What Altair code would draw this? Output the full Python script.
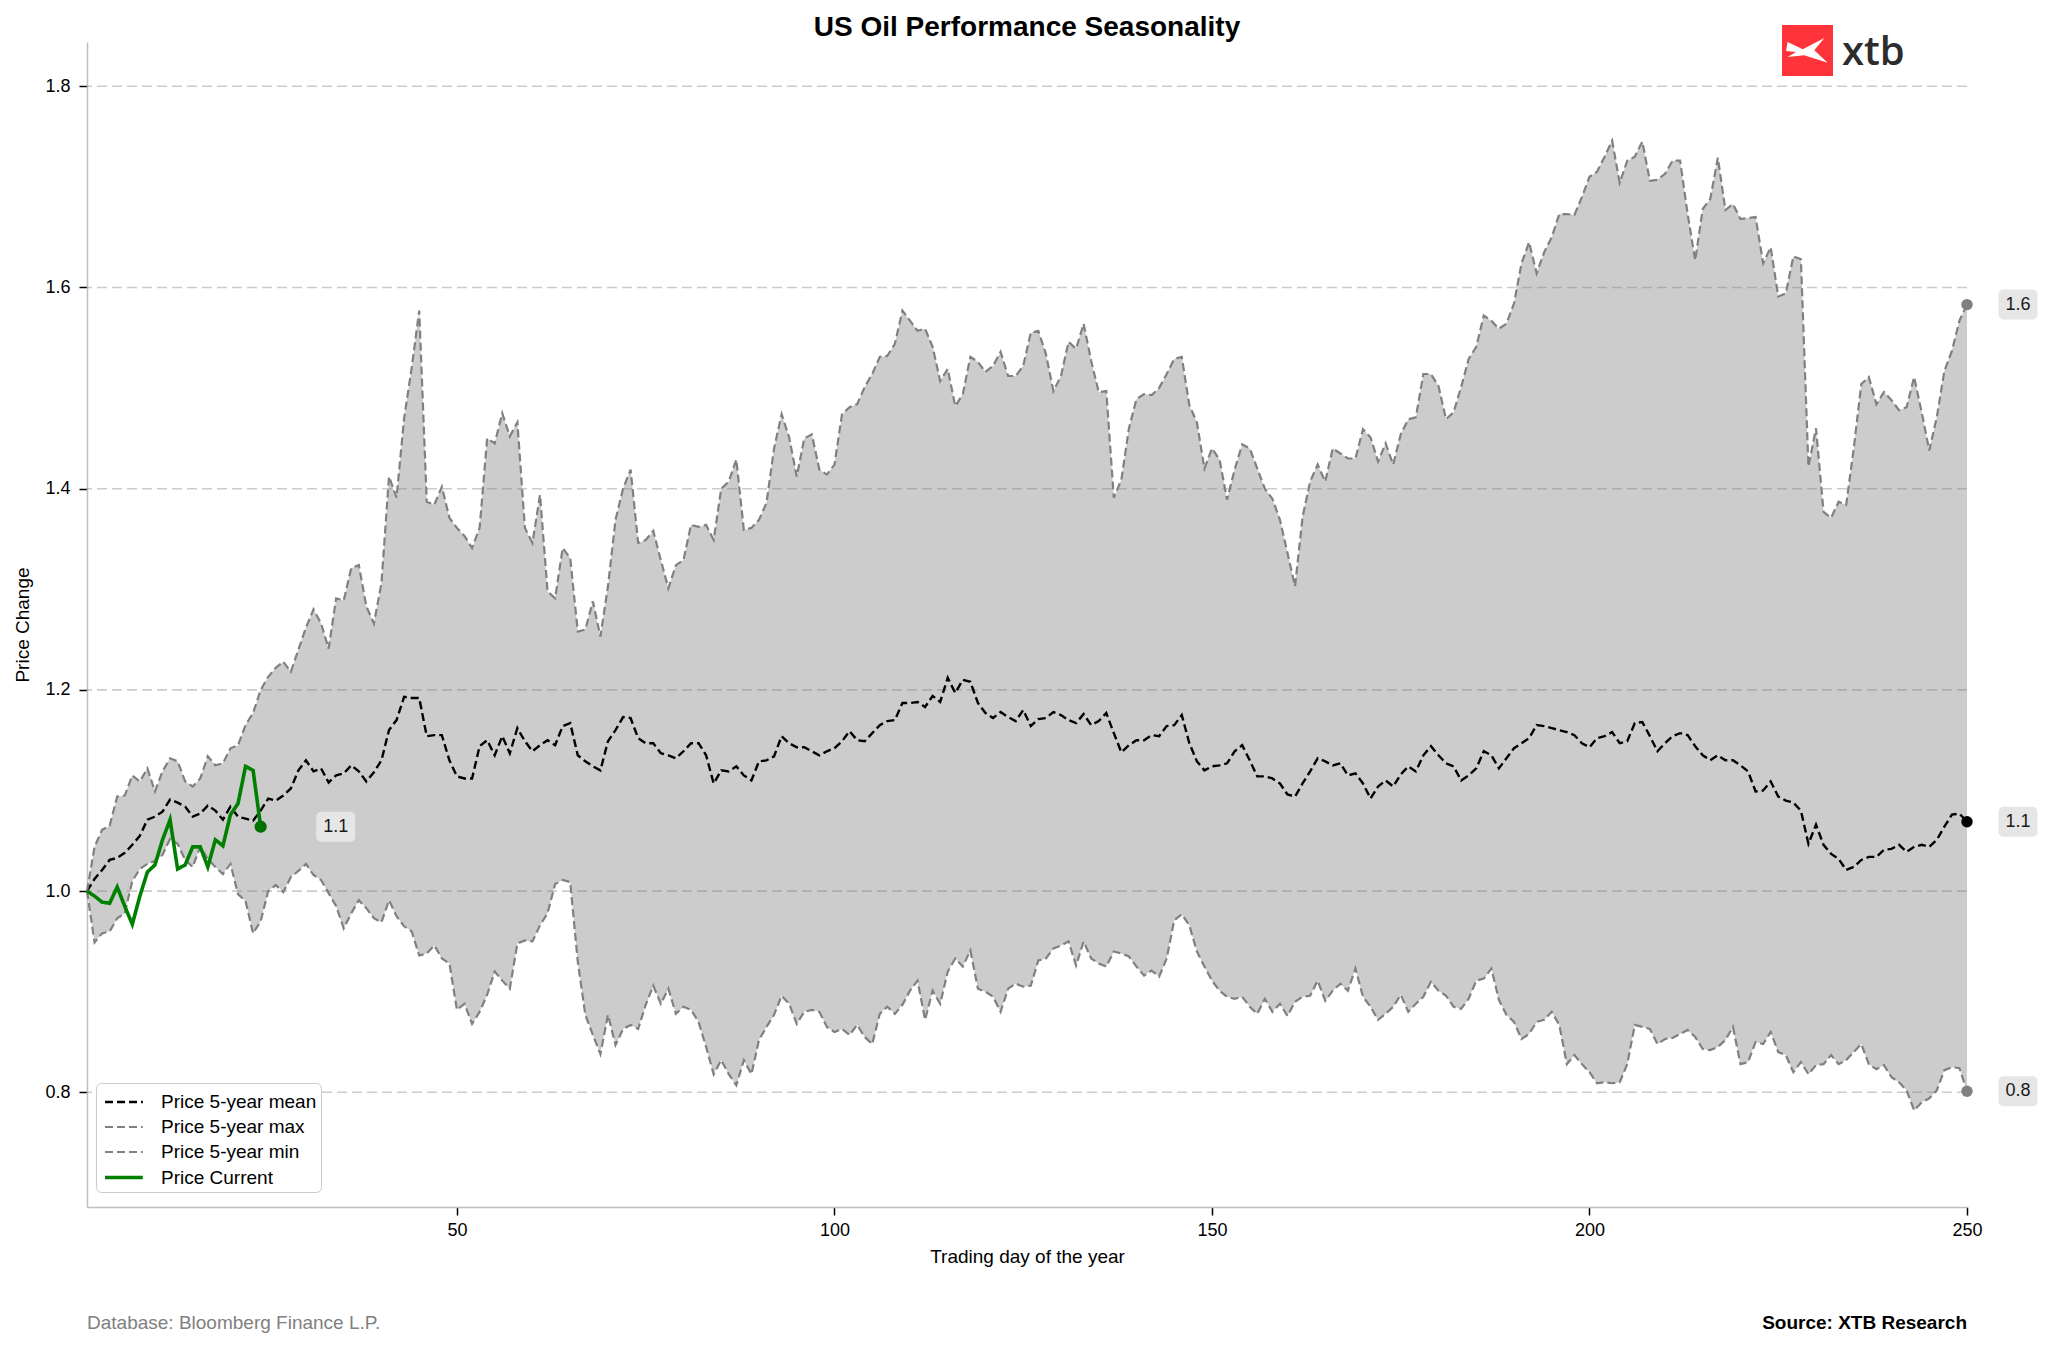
import altair as alt
import pandas as pd

days = list(range(1, 251))

max_vals = [
    1.000, 1.044, 1.061, 1.065, 1.094, 1.095, 1.115, 1.109, 1.122, 1.099,
    1.119, 1.132, 1.129, 1.109, 1.104, 1.112, 1.134, 1.125, 1.127, 1.142,
    1.145, 1.165, 1.177, 1.200, 1.213, 1.222, 1.228, 1.218, 1.240, 1.262,
    1.280, 1.266, 1.241, 1.291, 1.289, 1.321, 1.324, 1.283, 1.266, 1.306,
    1.412, 1.391, 1.470, 1.520, 1.577, 1.387, 1.384, 1.402, 1.371, 1.361,
    1.353, 1.341, 1.361, 1.450, 1.445, 1.475, 1.452, 1.466, 1.361, 1.346,
    1.394, 1.298, 1.291, 1.341, 1.331, 1.258, 1.260, 1.288, 1.253, 1.303,
    1.369, 1.400, 1.419, 1.346, 1.349, 1.358, 1.329, 1.301, 1.324, 1.329,
    1.364, 1.362, 1.364, 1.349, 1.400, 1.407, 1.429, 1.359, 1.361, 1.369,
    1.386, 1.440, 1.474, 1.451, 1.412, 1.450, 1.454, 1.419, 1.414, 1.424,
    1.474, 1.481, 1.484, 1.501, 1.514, 1.531, 1.532, 1.544, 1.577, 1.567,
    1.557, 1.559, 1.541, 1.507, 1.519, 1.482, 1.494, 1.531, 1.526, 1.516,
    1.522, 1.536, 1.512, 1.512, 1.522, 1.555, 1.557, 1.534, 1.497, 1.512,
    1.546, 1.539, 1.564, 1.527, 1.496, 1.497, 1.391, 1.409, 1.460, 1.489,
    1.494, 1.493, 1.500, 1.514, 1.529, 1.531, 1.483, 1.466, 1.420, 1.440,
    1.429, 1.389, 1.419, 1.444, 1.440, 1.420, 1.400, 1.390, 1.369, 1.336,
    1.303, 1.372, 1.407, 1.424, 1.407, 1.440, 1.435, 1.430, 1.430, 1.459,
    1.451, 1.427, 1.445, 1.424, 1.454, 1.469, 1.471, 1.514, 1.514, 1.502,
    1.469, 1.476, 1.501, 1.529, 1.541, 1.572, 1.567, 1.559, 1.564, 1.584,
    1.624, 1.645, 1.614, 1.635, 1.650, 1.673, 1.673, 1.672, 1.690, 1.710,
    1.715, 1.730, 1.746, 1.704, 1.726, 1.730, 1.745, 1.706, 1.707, 1.713,
    1.726, 1.726, 1.673, 1.627, 1.678, 1.688, 1.729, 1.677, 1.683, 1.668,
    1.669, 1.670, 1.624, 1.640, 1.591, 1.594, 1.631, 1.628, 1.422, 1.460,
    1.377, 1.371, 1.387, 1.384, 1.440, 1.504, 1.511, 1.484, 1.496, 1.488,
    1.478, 1.481, 1.511, 1.476, 1.438, 1.471, 1.517, 1.537, 1.567, 1.583,
]

min_vals = [
    1.000, 0.949, 0.958, 0.960, 0.973, 0.978, 1.010, 1.022, 1.027, 1.030,
    1.036, 1.052, 1.047, 1.031, 1.024, 1.044, 1.032, 1.024, 1.017, 1.027,
    0.997, 0.990, 0.958, 0.970, 1.000, 1.006, 0.999, 1.014, 1.020, 1.027,
    1.016, 1.011, 0.998, 0.985, 0.963, 0.978, 0.991, 0.983, 0.973, 0.969,
    0.991, 0.975, 0.965, 0.960, 0.936, 0.938, 0.946, 0.933, 0.928, 0.882,
    0.888, 0.868, 0.880, 0.897, 0.920, 0.911, 0.903, 0.948, 0.951, 0.950,
    0.966, 0.978, 1.007, 1.011, 1.009, 0.930, 0.877, 0.857, 0.838, 0.877,
    0.847, 0.863, 0.867, 0.863, 0.887, 0.906, 0.888, 0.903, 0.878, 0.885,
    0.882, 0.870, 0.845, 0.818, 0.832, 0.818, 0.807, 0.832, 0.818, 0.852,
    0.865, 0.877, 0.896, 0.888, 0.868, 0.880, 0.882, 0.880, 0.865, 0.860,
    0.863, 0.857, 0.867, 0.855, 0.848, 0.878, 0.885, 0.878, 0.887, 0.901,
    0.911, 0.872, 0.901, 0.888, 0.920, 0.933, 0.925, 0.941, 0.903, 0.900,
    0.895, 0.880, 0.903, 0.908, 0.905, 0.906, 0.931, 0.933, 0.943, 0.946,
    0.950, 0.926, 0.950, 0.933, 0.928, 0.925, 0.940, 0.938, 0.935, 0.925,
    0.916, 0.921, 0.915, 0.933, 0.971, 0.977, 0.966, 0.940, 0.925, 0.911,
    0.901, 0.895, 0.893, 0.895, 0.885, 0.878, 0.893, 0.880, 0.888, 0.876,
    0.890, 0.895, 0.896, 0.911, 0.891, 0.901, 0.908, 0.901, 0.923, 0.895,
    0.885, 0.872, 0.878, 0.885, 0.897, 0.880, 0.888, 0.895, 0.910, 0.901,
    0.896, 0.885, 0.883, 0.893, 0.911, 0.913, 0.923, 0.892, 0.877, 0.870,
    0.853, 0.858, 0.870, 0.872, 0.880, 0.867, 0.828, 0.837, 0.828, 0.820,
    0.809, 0.810, 0.809, 0.810, 0.828, 0.867, 0.865, 0.863, 0.848, 0.853,
    0.854, 0.858, 0.862, 0.855, 0.843, 0.842, 0.845, 0.852, 0.865, 0.828,
    0.830, 0.850, 0.848, 0.860, 0.840, 0.837, 0.820, 0.830, 0.818, 0.827,
    0.828, 0.837, 0.828, 0.832, 0.840, 0.848, 0.828, 0.823, 0.827, 0.815,
    0.810, 0.802, 0.782, 0.790, 0.794, 0.802, 0.822, 0.825, 0.824, 0.801,
]

mean_vals = [
    1.000, 1.012, 1.021, 1.031, 1.033, 1.038, 1.046, 1.055, 1.071, 1.074,
    1.079, 1.091, 1.088, 1.084, 1.074, 1.077, 1.085, 1.080, 1.071, 1.084,
    1.074, 1.072, 1.070, 1.080, 1.092, 1.090, 1.095, 1.102, 1.120, 1.130,
    1.119, 1.122, 1.108, 1.115, 1.117, 1.125, 1.119, 1.109, 1.118, 1.130,
    1.160, 1.170, 1.193, 1.192, 1.192, 1.154, 1.155, 1.155, 1.130, 1.114,
    1.112, 1.112, 1.144, 1.150, 1.135, 1.154, 1.137, 1.162, 1.149, 1.139,
    1.145, 1.150, 1.145, 1.164, 1.167, 1.135, 1.129, 1.124, 1.120, 1.149,
    1.160, 1.173, 1.172, 1.152, 1.147, 1.147, 1.137, 1.135, 1.132, 1.139,
    1.147, 1.147, 1.135, 1.107, 1.120, 1.119, 1.124, 1.115, 1.110, 1.129,
    1.130, 1.134, 1.154, 1.147, 1.143, 1.143, 1.139, 1.135, 1.139, 1.142,
    1.149, 1.159, 1.150, 1.149, 1.157, 1.165, 1.169, 1.170, 1.187, 1.187,
    1.188, 1.183, 1.194, 1.188, 1.212, 1.197, 1.210, 1.208, 1.187, 1.177,
    1.172, 1.178, 1.173, 1.169, 1.180, 1.164, 1.171, 1.172, 1.178, 1.175,
    1.170, 1.167, 1.176, 1.165, 1.169, 1.177, 1.157, 1.138, 1.145, 1.150,
    1.150, 1.155, 1.154, 1.164, 1.165, 1.175, 1.147, 1.129, 1.120, 1.124,
    1.125, 1.127, 1.139, 1.145, 1.130, 1.114, 1.114, 1.112, 1.107, 1.096,
    1.094, 1.107, 1.119, 1.132, 1.129, 1.125, 1.127, 1.115, 1.117, 1.107,
    1.092, 1.104, 1.110, 1.104, 1.116, 1.124, 1.119, 1.135, 1.144, 1.135,
    1.127, 1.124, 1.110, 1.115, 1.122, 1.139, 1.135, 1.122, 1.132, 1.142,
    1.147, 1.152, 1.165, 1.164, 1.162, 1.160, 1.158, 1.155, 1.147, 1.143,
    1.152, 1.154, 1.158, 1.147, 1.149, 1.167, 1.168, 1.154, 1.139, 1.147,
    1.154, 1.157, 1.155, 1.144, 1.135, 1.130, 1.135, 1.130, 1.130, 1.125,
    1.119, 1.099, 1.100, 1.109, 1.094, 1.090, 1.088, 1.080, 1.047, 1.066,
    1.046, 1.037, 1.032, 1.021, 1.024, 1.031, 1.034, 1.034, 1.041, 1.042,
    1.046, 1.039, 1.044, 1.046, 1.044, 1.051, 1.064, 1.076, 1.077, 1.069,
]

current_days = list(range(1, 25))
current_vals = [
    1.000, 0.995, 0.989, 0.988, 1.004, 0.985, 0.967, 0.995, 1.019, 1.026,
    1.051, 1.071, 1.022, 1.026, 1.044, 1.044, 1.024, 1.051, 1.045, 1.076,
    1.087, 1.124, 1.120, 1.064,
]

series_names = ["Price 5-year mean", "Price 5-year max", "Price 5-year min", "Price Current"]
series_colors = ["#000000", "#808080", "#808080", "#008000"]
series_dash = [[8, 4], [8, 4], [8, 4], [1, 0]]
series_width = [2.4, 2.2, 2.2, 3.6]

grid_values = [0.8, 1.0, 1.2, 1.4, 1.6, 1.8]
x_ticks = [50, 100, 150, 200, 250]

FONT = "Liberation Sans"
W, H = 1880, 1165

band = pd.DataFrame({"day": days, "max": max_vals, "min": min_vals})
lines = pd.concat([
    pd.DataFrame({"day": days, "value": mean_vals, "series": series_names[0]}),
    pd.DataFrame({"day": days, "value": max_vals, "series": series_names[1]}),
    pd.DataFrame({"day": days, "value": min_vals, "series": series_names[2]}),
    pd.DataFrame({"day": current_days, "value": current_vals, "series": series_names[3]}),
], ignore_index=True)

ends = pd.DataFrame({
    "day": [250, 250, 250],
    "value": [max_vals[-1], mean_vals[-1], min_vals[-1]],
    "pcolor": ["#808080", "#000000", "#808080"],
})
ends["label"] = [f"{v:.1f}" for v in ends["value"]]
cur_end = pd.DataFrame({"day": [current_days[-1]], "value": [current_vals[-1]]})
cur_end["label"] = [f"{v:.1f}" for v in cur_end["value"]]
grid_df = pd.DataFrame({"v": grid_values})

xscale = alt.Scale(domain=[1, 250], nice=False, zero=False)
yscale = alt.Scale(domain=[0.686, 1.844], nice=False, zero=False)

xaxis = alt.Axis(
    values=x_ticks, title="Trading day of the year", titleFontSize=19,
    titleFontWeight="normal", titleColor="black", titlePadding=8,
    labelFontSize=18, labelColor="black", labelPadding=6, labelFlush=False,
    tickSize=8, tickWidth=1.5, tickColor="black",
    domainColor="#bfbfbf", domainWidth=1.5, grid=False,
)
yaxis = alt.Axis(
    values=grid_values, format=".1f", title="Price Change", titleFontSize=19,
    titleFontWeight="normal", titleColor="black", titlePadding=12,
    labelFontSize=18, labelColor="black", labelPadding=9,
    tickSize=8, tickWidth=1.5, tickColor="black",
    domainColor="#bfbfbf", domainWidth=1.5, grid=False,
)

X = alt.X("day:Q", scale=xscale, axis=xaxis)

def Y(field):
    return alt.Y(field, type="quantitative", scale=yscale, axis=yaxis)

area = alt.Chart(band).mark_area(color="#cccccc", opacity=1).encode(
    x=X, y=Y("max"), y2=alt.Y2("min")
)

grid = alt.Chart(grid_df).mark_rule(
    color="#808080", opacity=0.4, strokeDash=[10, 5], strokeWidth=1.6
).encode(y=Y("v"))

legend = alt.Legend(
    title=None, orient="none", legendX=9, legendY=1041,
    symbolType="M -1,0 L 1.8,0", symbolSize=729, labelFontSize=19, labelColor="black",
    labelOffset=27, symbolOffset=3, rowPadding=0, padding=4, labelLimit=400,
    strokeColor="#cccccc", fillColor="white", cornerRadius=5,
    symbolFillColor="transparent",
)

line = alt.Chart(lines).mark_line().encode(
    x=X, y=Y("value"),
    color=alt.Color("series:N", scale=alt.Scale(domain=series_names, range=series_colors), legend=legend),
    strokeDash=alt.StrokeDash("series:N", scale=alt.Scale(domain=series_names, range=series_dash), legend=legend),
    strokeWidth=alt.StrokeWidth("series:N", scale=alt.Scale(type="ordinal", domain=series_names, range=series_width), legend=legend),
    order="day:Q",
)

end_pts = alt.Chart(ends).mark_circle(size=130, opacity=1).encode(
    x=X, y=Y("value"), fill=alt.Fill("pcolor:N", scale=None)
)
cur_pt = alt.Chart(cur_end).mark_circle(size=150, opacity=1, color="#007000").encode(
    x=X, y=Y("value")
)

box_r = alt.Chart(ends).mark_rect(
    width=39, height=30, cornerRadius=5, color="#e6e6e6", xOffset=51
).encode(x=X, y=Y("value"))
txt_r = alt.Chart(ends).mark_text(
    xOffset=51, fontSize=18, color="#1a1a1a", font=FONT
).encode(x=X, y=Y("value"), text="label:N")

box_c = alt.Chart(cur_end).mark_rect(
    width=39, height=30, cornerRadius=5, color="#e6e6e6", xOffset=75
).encode(x=X, y=Y("value"))
txt_c = alt.Chart(cur_end).mark_text(
    xOffset=75, fontSize=18, color="#1a1a1a", font=FONT
).encode(x=X, y=Y("value"), text="label:N")

one = pd.DataFrame({"a": [0]})

title = alt.Chart(one).mark_text(
    text="US Oil Performance Seasonality", fontSize=28, fontWeight="bold",
    font=FONT, color="black", align="center", baseline="middle"
).encode(x=alt.value(W / 2), y=alt.value(-14))

foot_l = alt.Chart(one).mark_text(
    text="Database: Bloomberg Finance L.P.", fontSize=19, font=FONT,
    color="#808080", align="left", baseline="middle"
).encode(x=alt.value(0), y=alt.value(1281))

foot_r = alt.Chart(one).mark_text(
    text="Source: XTB Research", fontSize=19, font=FONT, fontWeight="bold",
    color="black", align="right", baseline="middle"
).encode(x=alt.value(W), y=alt.value(1281))

logo_sq = alt.Chart(one).mark_rect(color="#ff343b").encode(
    x=alt.value(1695), x2=alt.value(1746), y=alt.value(-17), y2=alt.value(34)
)
x_path = ("M -0.85,-0.42 L -0.15,-0.08 L 0.85,-0.6 L 0.38,-0.03 L 1.0,0.54 "
          "L -0.08,0.2 L -0.85,0.28 L -0.46,0.05 L -0.92,0.0 Z")
logo_x = alt.Chart(one).mark_point(
    shape=x_path, filled=True, color="white", opacity=1, size=1880, strokeWidth=0
).encode(x=alt.value(1719), y=alt.value(9))
logo_t = alt.Chart(one).mark_text(
    text="xtb", fontSize=40, font="Open Sans", fontWeight=600,
    color="#2d2d2d", align="left", baseline="alphabetic"
).encode(x=alt.value(1755), y=alt.value(23))

chart = alt.layer(
    area, grid, line, end_pts, cur_pt, box_r, txt_r, box_c, txt_c,
    title, foot_l, foot_r, logo_sq, logo_x, logo_t
).properties(
    width=W, height=H,
    autosize=alt.AutoSizeParams(type="none"),
    padding={"left": 79, "top": 34, "right": 73, "bottom": 135},
).configure(font=FONT).configure_view(stroke="transparent")

chart.save("out.html", embed_options={"renderer": "svg", "actions": False})
